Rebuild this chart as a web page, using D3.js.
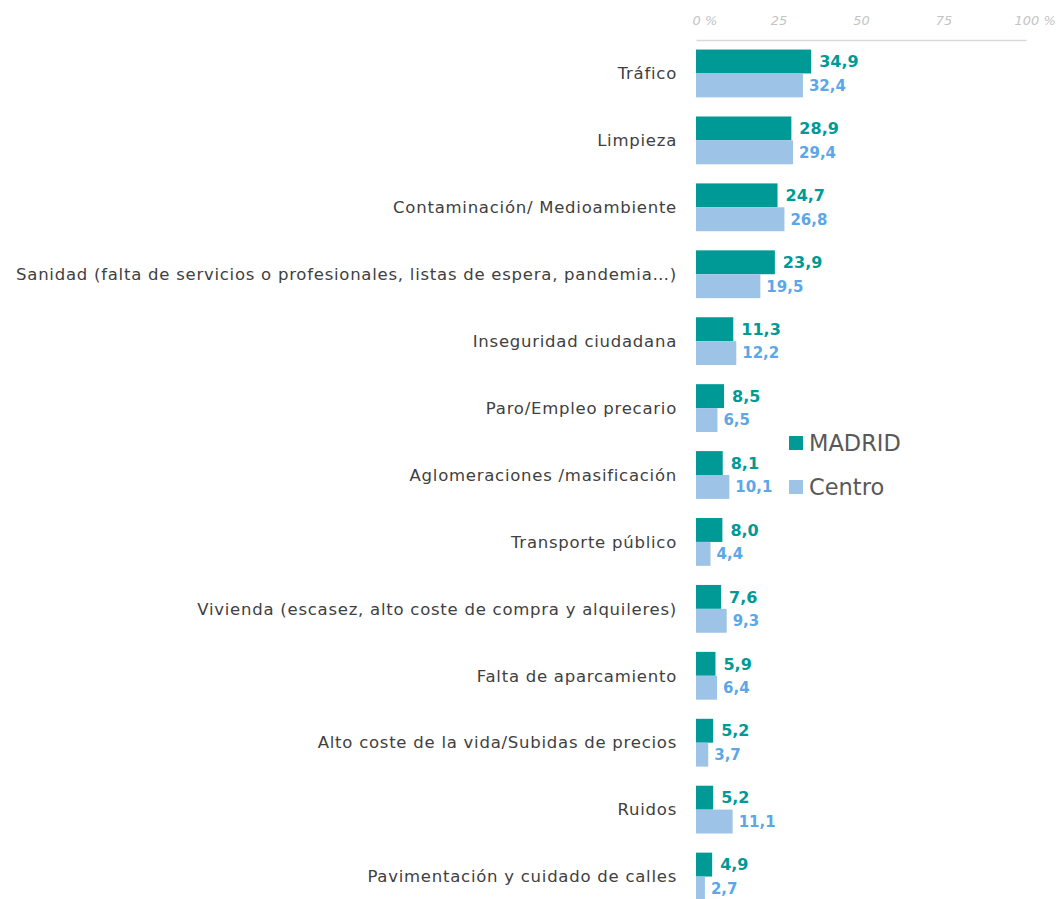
<!DOCTYPE html>
<html>
<head>
<meta charset="utf-8">
<script src="https://cdn.jsdelivr.net/npm/d3@7"></script>
<style>
  body { margin: 0; background: #fff; }
  svg { font-family: "DejaVu Sans", sans-serif; }
</style>
</head>
<body>
<div id="container"></div>
<script>
// data
var categories = [
  "Tráfico",
  "Limpieza",
  "Contaminación/ Medioambiente",
  "Sanidad (falta de servicios o profesionales, listas de espera, pandemia…)",
  "Inseguridad ciudadana",
  "Paro/Empleo precario",
  "Aglomeraciones /masificación",
  "Transporte público",
  "Vivienda (escasez, alto coste de compra y alquileres)",
  "Falta de aparcamiento",
  "Alto coste de la vida/Subidas de precios",
  "Ruidos",
  "Pavimentación y cuidado de calles"
];
var madrid = [34.9, 28.9, 24.7, 23.9, 11.3, 8.5, 8.1, 8.0, 7.6, 5.9, 5.2, 5.2, 4.9];
var centro = [32.4, 29.4, 26.8, 19.5, 12.2, 6.5, 10.1, 4.4, 9.3, 6.4, 3.7, 11.1, 2.7];
var seriesNames = ["MADRID", "Centro"];
var tickValues = [0, 25, 50, 75, 100];

var colors = { MADRID: "#009a96", Centro: "#9dc3e6" };
var labelColors = { MADRID: "#009a96", Centro: "#5ba7e8" };

var width = 1058, height = 899;

var svg = d3.select("#container").append("svg")
  .attr("width", width)
  .attr("height", height);

// scales
var x = d3.scaleLinear()
  .domain([0, 100])
  .range([696, 1026]);

var y0 = d3.scaleBand()
  .domain(categories)
  .range([40, 910]);

var y1 = d3.scaleBand()
  .domain(seriesNames)
  .range([0, y0.bandwidth()])
  .paddingOuter(0.4);

var rows = categories.map(function(c, i) {
  return { cat: c, values: [
    { key: "MADRID", value: madrid[i] },
    { key: "Centro", value: centro[i] }
  ]};
});

// top axis
var axis = svg.append("g")
  .attr("transform", "translate(0,40)")
  .call(d3.axisTop(x).tickValues(tickValues).tickSize(0).tickPadding(15)
    .tickFormat(function(d) { return (d === 0 || d === 100) ? d + " %" : d; }));
axis.select(".domain").attr("stroke", "#d9d9d9").attr("stroke-width", 1.5);
axis.attr("font-size", 13).attr("font-family", null);
axis.selectAll("text")
  .attr("fill", "#c4c4c4")
  .style("font-style", "italic")
  .filter(function(d) { return d === 0 || d === 100; })
  .attr("text-anchor", "start")
  .attr("dx", function(d) { return d === 0 ? -4 : -12; });

// category labels
svg.append("g").selectAll("text")
  .data(categories)
  .join("text")
  .attr("x", x(0) - 19)
  .attr("y", function(d) { return y0(d) + y0.bandwidth() / 2; })
  .attr("dy", "0.35em")
  .attr("text-anchor", "end")
  .attr("fill", "#404040")
  .style("font-size", "16.5px")
  .style("letter-spacing", "0.75px")
  .text(function(d) { return d; });

// bars
var groups = svg.append("g").selectAll("g")
  .data(rows)
  .join("g")
  .attr("transform", function(d) { return "translate(0," + y0(d.cat) + ")"; });

groups.selectAll("rect")
  .data(function(d) { return d.values; })
  .join("rect")
  .attr("x", x(0))
  .attr("y", function(d) { return y1(d.key); })
  .attr("width", function(d) { return x(d.value) - x(0); })
  .attr("height", y1.bandwidth())
  .attr("fill", function(d) { return colors[d.key]; });

// value labels
groups.selectAll("text")
  .data(function(d) { return d.values; })
  .join("text")
  .attr("x", function(d) { return x(d.value) + (d.key === "MADRID" ? 8 : 6); })
  .attr("y", function(d) { return y1(d.key) + y1.bandwidth() / 2; })
  .attr("dy", "0.36em")
  .attr("fill", function(d) { return labelColors[d.key]; })
  .style("font-weight", "bold")
  .style("font-size", function(d) { return d.key === "MADRID" ? "16px" : "15px"; })
  .text(function(d) { return d3.format(".1f")(d.value).replace(".", ","); });

// legend
var legend = svg.append("g").selectAll("g")
  .data(seriesNames)
  .join("g")
  .attr("transform", function(d, i) { return "translate(789," + (443 + i * 44) + ")"; });

legend.append("rect")
  .attr("x", 0)
  .attr("y", -7)
  .attr("width", 14)
  .attr("height", 14)
  .attr("fill", function(d) { return colors[d]; });

legend.append("text")
  .attr("x", 20)
  .attr("dy", "0.35em")
  .attr("fill", "#595959")
  .style("font-size", "22.5px")
  .text(function(d) { return d; });
</script>
</body>
</html>
